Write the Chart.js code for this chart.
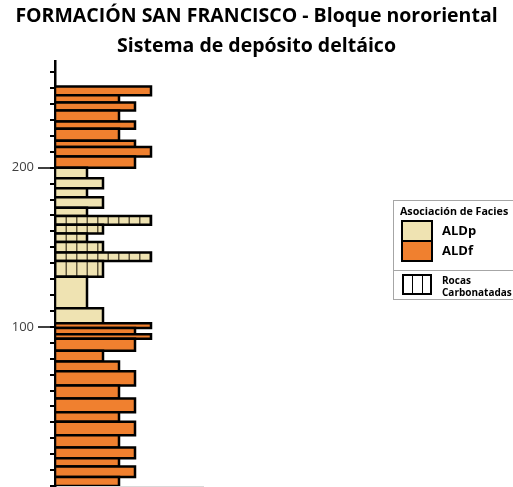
<!DOCTYPE html>
<html lang="es">
<head>
<meta charset="utf-8">
<title>Formación San Francisco - Bloque nororiental</title>
<script src="https://cdn.jsdelivr.net/npm/chart.js@4/dist/chart.umd.min.js"></script>
<style>
  html, body { margin: 0; padding: 0; background: #fff; }
  body { position: relative; width: 513px; height: 487px; overflow: hidden; font-family: "Open Sans", sans-serif; }
  #column { position: absolute; left: 0; top: 0; }
  .lg { position: absolute; color: #000; font-weight: bold; white-space: nowrap; }
  .lg-frame { position: absolute; left: 393px; top: 200px; width: 140px; height: 98px; border: 1px solid #a6a6a6; }
  .lg-rule { position: absolute; left: 393px; top: 270px; width: 140px; height: 1px; background: #a6a6a6; }
  .sw { position: absolute; box-sizing: border-box; border: 2px solid #000; }
</style>
</head>
<body>
<canvas id="column" width="513" height="487"></canvas>

<div class="lg-frame"></div>
<div class="lg-rule"></div>
<div class="lg" style="left:400px; top:205px; font-size:10.7px; line-height:12px;">Asociación de Facies</div>
<div class="sw" style="left:401px; top:220px; width:32px; height:22px; background:#EFE3B2;"></div>
<div class="sw" style="left:401px; top:240px; width:32px; height:22px; background:#F0802F;"></div>
<div class="lg" style="left:442px; top:222px; font-size:13px; line-height:16px;">ALDp</div>
<div class="lg" style="left:442px; top:242px; font-size:13px; line-height:16px;">ALDf</div>
<div class="sw" style="left:402px; top:274px; width:30px; height:21px; background:#fff;"></div>
<div style="position:absolute; left:411.5px; top:275px; width:1.5px; height:19px; background:#000;"></div>
<div style="position:absolute; left:421.5px; top:275px; width:1.5px; height:19px; background:#000;"></div>
<div class="lg" style="left:442px; top:274px; font-size:10px; line-height:12px;">Rocas</div>
<div class="lg" style="left:442px; top:286px; font-size:10px; line-height:12px;">Carbonatadas</div>

<script>
// Layer boundaries (depth units, bottom to top)
const depthBounds = [0, 5.6, 12.3, 17.5, 24.2, 31.9, 40.3, 46.3, 54.9, 63.1, 72.1, 78.3, 85, 92.5, 95.4, 99.2, 102.3,
                     111.7, 131.4, 141.4, 146.7, 153.3, 158.6, 164.2, 169.6, 174.8, 181.4, 187.1, 193.3, 200,
                     207, 213, 217, 224.5, 229, 236, 241, 245.5, 251];
// Grain-size class of each layer (horizontal extent of the bar)
const grainClass = [4, 5, 4, 5, 4, 5, 4, 5, 4, 5, 4, 3, 5, 6, 5, 6,
                    3, 2, 3, 6, 3, 2, 3, 6, 2, 3, 2, 3, 2,
                    5, 6, 5, 4, 5, 4, 5, 4, 6];
// Facies association of each layer
const facies = ['ALDf', 'ALDf', 'ALDf', 'ALDf', 'ALDf', 'ALDf', 'ALDf', 'ALDf', 'ALDf', 'ALDf', 'ALDf', 'ALDf', 'ALDf', 'ALDf', 'ALDf', 'ALDf',
                'ALDp', 'ALDp', 'ALDp', 'ALDp', 'ALDp', 'ALDp', 'ALDp', 'ALDp', 'ALDp', 'ALDp', 'ALDp', 'ALDp', 'ALDp',
                'ALDf', 'ALDf', 'ALDf', 'ALDf', 'ALDf', 'ALDf', 'ALDf', 'ALDf', 'ALDf'];
// Carbonate rocks flag (1 = hatched)
const carbonate = [0, 0, 0, 0, 0, 0, 0, 0, 0, 0, 0, 0, 0, 0, 0, 0,
                   0, 0, 1, 1, 1, 1, 1, 1, 0, 0, 0, 0, 0,
                   0, 0, 0, 0, 0, 0, 0, 0, 0];
// Labelled depth ticks
const labeledDepths = [100, 200];
const minorStep = 10;
const depthMax = 267;
const grainMax = 9.25;

const faciesColor = { ALDp: '#EFE3B2', ALDf: '#F0802F' };

// Vertical-line hatch used for carbonate layers
function carbonatePattern(ctx) {
  const tile = document.createElement('canvas');
  tile.width = 21; tile.height = 4;
  const t = tile.getContext('2d');
  t.fillStyle = faciesColor.ALDp;
  t.fillRect(0, 0, 21, 4);
  t.fillStyle = 'rgba(70,62,40,0.85)';
  t.fillRect(0, 0, 1.5, 4);
  t.fillRect(10.5, 0, 1.5, 4);
  const p = ctx.createPattern(tile, 'repeat');
  if (p.setTransform && window.DOMMatrix) p.setTransform(new DOMMatrix().translate(55, 0));
  return p;
}

const canvas = document.getElementById('column');
const ctx = canvas.getContext('2d');
const hatch = carbonatePattern(ctx);

const datasets = [];
for (let i = 0; i < grainClass.length; i++) {
  const b = depthBounds[i], t = depthBounds[i + 1], w = grainClass[i];
  datasets.push({
    label: facies[i],
    data: [{ x: 0, y: b }, { x: w, y: b }, { x: w, y: t }, { x: 0, y: t }, { x: 0, y: b }],
    showLine: true,
    fill: 'shape',
    backgroundColor: carbonate[i] ? hatch : faciesColor[facies[i]],
    borderColor: '#000',
    borderWidth: 2.5,
    borderJoinStyle: 'miter',
    tension: 0,
    pointRadius: 0,
    pointHoverRadius: 0
  });
}

const minorTicks = [];
for (let v = 0; v < depthMax; v += minorStep) minorTicks.push(v);

new Chart(ctx, {
  type: 'scatter',
  data: { datasets },
  options: {
    responsive: false,
    animation: false,
    events: [],
    layout: { padding: { left: 0, right: 0, top: 0, bottom: 1 } },
    plugins: {
      legend: { display: false },
      tooltip: { enabled: false },
      title: {
        display: true,
        text: ['FORMACIÓN SAN FRANCISCO - Bloque nororiental', 'Sistema de depósito deltáico'],
        color: '#000',
        font: { family: 'Open Sans', size: 19.5, weight: 'bold', lineHeight: 1.54 },
        padding: { top: 1, bottom: 0 }
      }
    },
    scales: {
      x: {
        type: 'linear', position: 'bottom', min: 0, max: grainMax,
        ticks: { display: false },
        grid: { display: false, drawTicks: false },
        border: { display: true, color: '#d9d9d9', width: 1 },
        afterFit(s) { s.height = 0; s.paddingLeft = 0; s.paddingRight = 0; }
      },
      y: {
        type: 'linear', position: 'left', weight: 0, min: 0, max: depthMax,
        afterBuildTicks(s) { s.ticks = minorTicks.map(v => ({ value: v })); },
        ticks: { display: false },
        grid: { drawOnChartArea: false, drawTicks: true, tickLength: 5, color: '#000', lineWidth: 2 },
        border: { display: true, color: '#000', width: 2.5 },
        afterFit(s) { s.width = 5; s.paddingTop = 0; s.paddingBottom = 0; }
      },
      y2: {
        type: 'linear', position: 'left', weight: 1, min: 0, max: depthMax,
        afterBuildTicks(s) { s.ticks = labeledDepths.map(v => ({ value: v })); },
        ticks: { display: true, autoSkip: false, color: '#404040', padding: 4,
                 font: { family: 'Open Sans', size: 13 } },
        grid: { drawOnChartArea: false, drawTicks: true, tickLength: 12, color: '#404040', lineWidth: 2 },
        border: { display: false },
        afterFit(s) { s.width = 50; s.paddingTop = 0; s.paddingBottom = 0; }
      },
      // blank margin on the right, where the facies key sits
      side: {
        type: 'linear', position: 'right', min: 0, max: depthMax,
        ticks: { display: false },
        grid: { display: false, drawTicks: false },
        border: { display: false },
        afterFit(s) { s.width = 310; s.paddingTop = 0; s.paddingBottom = 0; }
      }
    }
  }
});
</script>
</body>
</html>
